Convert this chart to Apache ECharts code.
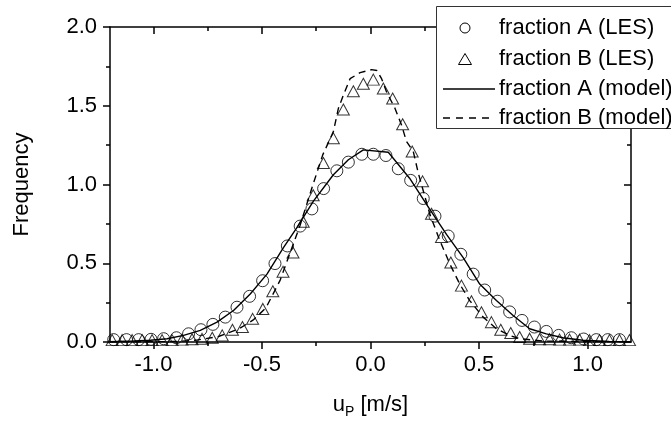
<!DOCTYPE html>
<html><head><meta charset="utf-8">
<script src="https://cdn.jsdelivr.net/npm/echarts@6/dist/echarts.min.js"></script>
<style>html,body{margin:0;padding:0;background:#fff}#c{width:671px;height:424px}</style>
</head><body><div id="c"></div>
<script>
// ---- data ----
const seriesNames = ['fraction A (LES)', 'fraction B (LES)', 'fraction A (model)', 'fraction B (model)'];

const circleX = [-1.183, -1.124, -1.068, -1.011, -0.953, -0.894, -0.838, -0.781, -0.726, -0.669, -0.615, -0.557, -0.497, -0.440, -0.383, -0.324, -0.270, -0.216, -0.155, -0.102, -0.040, 0.013, 0.071, 0.128, 0.185, 0.243, 0.297, 0.358, 0.416, 0.473, 0.526, 0.585, 0.641, 0.698, 0.755, 0.810, 0.867, 0.925, 0.982, 1.040, 1.093, 1.147];
const circleY = [0.015, 0.015, 0.015, 0.017, 0.021, 0.027, 0.052, 0.078, 0.112, 0.158, 0.221, 0.290, 0.389, 0.498, 0.610, 0.736, 0.845, 0.974, 1.087, 1.142, 1.192, 1.192, 1.184, 1.100, 1.026, 0.911, 0.799, 0.673, 0.557, 0.431, 0.330, 0.259, 0.191, 0.137, 0.095, 0.067, 0.042, 0.027, 0.019, 0.015, 0.015, 0.015];

const triX = [-1.190, -1.144, -1.098, -1.052, -1.006, -0.960, -0.914, -0.868, -0.822, -0.776, -0.729, -0.683, -0.636, -0.590, -0.543, -0.496, -0.450, -0.403, -0.357, -0.310, -0.264, -0.217, -0.171, -0.125, -0.079, -0.033, 0.013, 0.059, 0.102, 0.148, 0.192, 0.240, 0.281, 0.327, 0.370, 0.419, 0.465, 0.511, 0.557, 0.600, 0.646, 0.687, 0.733, 0.779, 0.825, 0.871, 0.917, 0.963, 1.009, 1.055, 1.101, 1.147, 1.193];
const triY = [0.012, 0.012, 0.012, 0.012, 0.012, 0.012, 0.012, 0.015, 0.018, 0.020, 0.027, 0.042, 0.078, 0.095, 0.147, 0.210, 0.322, 0.446, 0.568, 0.763, 0.932, 1.136, 1.293, 1.476, 1.592, 1.640, 1.666, 1.609, 1.546, 1.382, 1.209, 1.020, 0.814, 0.667, 0.505, 0.358, 0.259, 0.189, 0.126, 0.078, 0.057, 0.032, 0.021, 0.018, 0.018, 0.015, 0.015, 0.015, 0.012, 0.012, 0.012, 0.012, 0.012];

const modelAX = [-1.2, -1.09, -1.014, -0.937, -0.861, -0.784, -0.707, -0.631, -0.554, -0.477, -0.401, -0.339, -0.263, -0.171, -0.102, -0.033, 0.082, 0.18, 0.274, 0.35, 0.427, 0.503, 0.58, 0.657, 0.733, 0.81, 0.886, 0.978, 1.1, 1.2];
const modelAY = [0.002, 0.006, 0.011, 0.021, 0.042, 0.074, 0.126, 0.20, 0.305, 0.431, 0.599, 0.726, 0.894, 1.062, 1.157, 1.22, 1.205, 1.04, 0.841, 0.683, 0.536, 0.368, 0.263, 0.168, 0.084, 0.052, 0.027, 0.011, 0.004, 0.002];

const modelBX = [-1.2, -0.9, -0.8, -0.7, -0.605, -0.54, -0.482, -0.416, -0.370, -0.324, -0.270, -0.220, -0.171, -0.148, -0.125, -0.094, -0.048, 0.005, 0.029, 0.051, 0.074, 0.113, 0.143, 0.166, 0.197, 0.22, 0.274, 0.32, 0.366, 0.411, 0.457, 0.519, 0.58, 0.641, 0.687, 0.8, 1.2];
const modelBY = [0.0, 0.003, 0.012, 0.035, 0.084, 0.14, 0.216, 0.393, 0.568, 0.742, 0.978, 1.188, 1.336, 1.483, 1.567, 1.672, 1.710, 1.729, 1.724, 1.672, 1.588, 1.483, 1.377, 1.273, 1.210, 1.073, 0.809, 0.642, 0.494, 0.368, 0.263, 0.158, 0.084, 0.042, 0.021, 0.006, 0.0];

const xMajorTicks = [-1.0, -0.5, 0.0, 0.5, 1.0];
const xMinorTicks = [-1.0, -0.75, -0.5, -0.25, 0.0, 0.25, 0.5, 0.75, 1.0];
const xNameParts = ['u', 'P', ' [m/s]'];
const yName = 'Frequency';

// ---- chart ----
const FONT = 'Liberation Sans, Arial, sans-serif';
const zip = (xs, ys) => xs.map((x, i) => [x, ys[i]]);
const blk = { color: '#000', width: 1.5 };
const xBase = { type: 'value', min: -1.2, max: 1.2, splitLine: { show: false } };
const yBase = { type: 'value', min: 0, max: 2, interval: 0.5, splitLine: { show: false } };

// legend drawn as graphic (box partly outside the canvas, like the reference)
const legRows = [28, 59, 89, 118];
const legText = seriesNames.map((n, i) => ({
  type: 'text', x: 499, y: legRows[i], z: 11,
  style: { text: n, fontSize: 22, fontFamily: FONT, fill: '#000', verticalAlign: 'middle', align: 'left' }
}));
const graphic = [
  { type: 'rect', shape: { x: 436.5, y: 6.5, width: 260, height: 122 }, style: { fill: '#fff', stroke: '#333', lineWidth: 1 }, z: 10 },
  { type: 'circle', shape: { cx: 465, cy: legRows[0], r: 5 }, style: { fill: 'none', stroke: '#000', lineWidth: 1 }, z: 11 },
  { type: 'polygon', shape: { points: [[465, legRows[1] - 5.5], [471.5, legRows[1] + 5.5], [458.5, legRows[1] + 5.5]] }, style: { fill: 'none', stroke: '#000', lineWidth: 1 }, z: 11 },
  { type: 'line', shape: { x1: 443, y1: legRows[2], x2: 495, y2: legRows[2] }, style: { stroke: '#000', lineWidth: 1.4 }, z: 11 },
  { type: 'line', shape: { x1: 443, y1: legRows[3], x2: 490, y2: legRows[3] }, style: { stroke: '#000', lineWidth: 1.4, lineDash: [7, 6] }, z: 11 }
].concat(legText);

const option = {
  animation: false,
  backgroundColor: '#fff',
  grid: { left: 110, right: 40, top: 27, bottom: 79, containLabel: false },
  graphic: graphic,
  xAxis: [
    Object.assign({}, xBase, {
      position: 'bottom',
      axisLine: { show: true, onZero: false, lineStyle: blk },
      axisTick: { show: true, inside: false, length: 7, customValues: xMajorTicks, lineStyle: blk },
      axisLabel: { customValues: xMajorTicks, formatter: v => v.toFixed(1), fontSize: 22, color: '#000', margin: 12, fontFamily: FONT },
      name: '{a|' + xNameParts[0] + '}{s|' + xNameParts[1] + '}{a|' + xNameParts[2] + '}', nameLocation: 'middle', nameGap: 50,
      nameTextStyle: { color: '#000', fontFamily: FONT, rich: {
        a: { fontSize: 22, color: '#000', fontFamily: FONT, lineHeight: 24, verticalAlign: 'bottom' },
        s: { fontSize: 14, color: '#000', fontFamily: FONT, lineHeight: 24, verticalAlign: 'bottom', padding: [0, 0, -3, 0] } } }
    }),
    Object.assign({}, xBase, {
      position: 'bottom',
      axisLine: { show: false, onZero: false },
      axisTick: { show: true, inside: false, length: 4, customValues: xMinorTicks, lineStyle: blk },
      axisLabel: { show: false }
    }),
    Object.assign({}, xBase, {
      position: 'top',
      axisLine: { show: true, onZero: false, lineStyle: blk },
      axisTick: { show: true, inside: true, length: 7, customValues: xMajorTicks, lineStyle: blk },
      axisLabel: { show: false }
    }),
    Object.assign({}, xBase, {
      position: 'top',
      axisLine: { show: false, onZero: false },
      axisTick: { show: true, inside: true, length: 4, customValues: xMinorTicks, lineStyle: blk },
      axisLabel: { show: false }
    })
  ],
  yAxis: [
    Object.assign({}, yBase, {
      position: 'left',
      axisLine: { show: true, onZero: false, lineStyle: blk },
      axisTick: { show: true, inside: false, length: 7, lineStyle: blk },
      minorTick: { show: true, splitNumber: 2, length: 4, lineStyle: blk },
      axisLabel: { formatter: v => v.toFixed(1), fontSize: 22, color: '#000', margin: 13, fontFamily: FONT },
      name: yName, nameLocation: 'middle', nameGap: 77, nameRotate: 90,
      nameTextStyle: { fontSize: 22, color: '#000', fontFamily: FONT }
    }),
    Object.assign({}, yBase, {
      position: 'right',
      axisLine: { show: true, onZero: false, lineStyle: blk },
      axisTick: { show: true, inside: true, length: 7, lineStyle: blk },
      minorTick: { show: true, splitNumber: 2, length: 4, lineStyle: blk },
      axisLabel: { show: false }
    })
  ],
  series: [
    { name: seriesNames[0], type: 'scatter', data: zip(circleX, circleY), symbol: 'circle', symbolSize: 12,
      itemStyle: { color: 'rgba(0,0,0,0)', borderColor: '#000', borderWidth: 1 }, z: 3 },
    { name: seriesNames[1], type: 'scatter', data: zip(triX, triY), symbol: 'triangle', symbolSize: [12, 11],
      itemStyle: { color: 'rgba(0,0,0,0)', borderColor: '#000', borderWidth: 1 }, z: 3 },
    { name: seriesNames[2], type: 'line', data: zip(modelAX, modelAY), symbol: 'none', smooth: false,
      lineStyle: { color: '#000', width: 1.4, type: 'solid' }, itemStyle: { color: '#000' }, z: 2 },
    { name: seriesNames[3], type: 'line', data: zip(modelBX, modelBY), symbol: 'none', smooth: false,
      lineStyle: { color: '#000', width: 1.4, type: [7, 5] }, itemStyle: { color: '#000' }, z: 2 }
  ]
};
const chart = echarts.init(document.getElementById('c'), null, { renderer: 'canvas' });
chart.setOption(option);
</script>
</body></html>
